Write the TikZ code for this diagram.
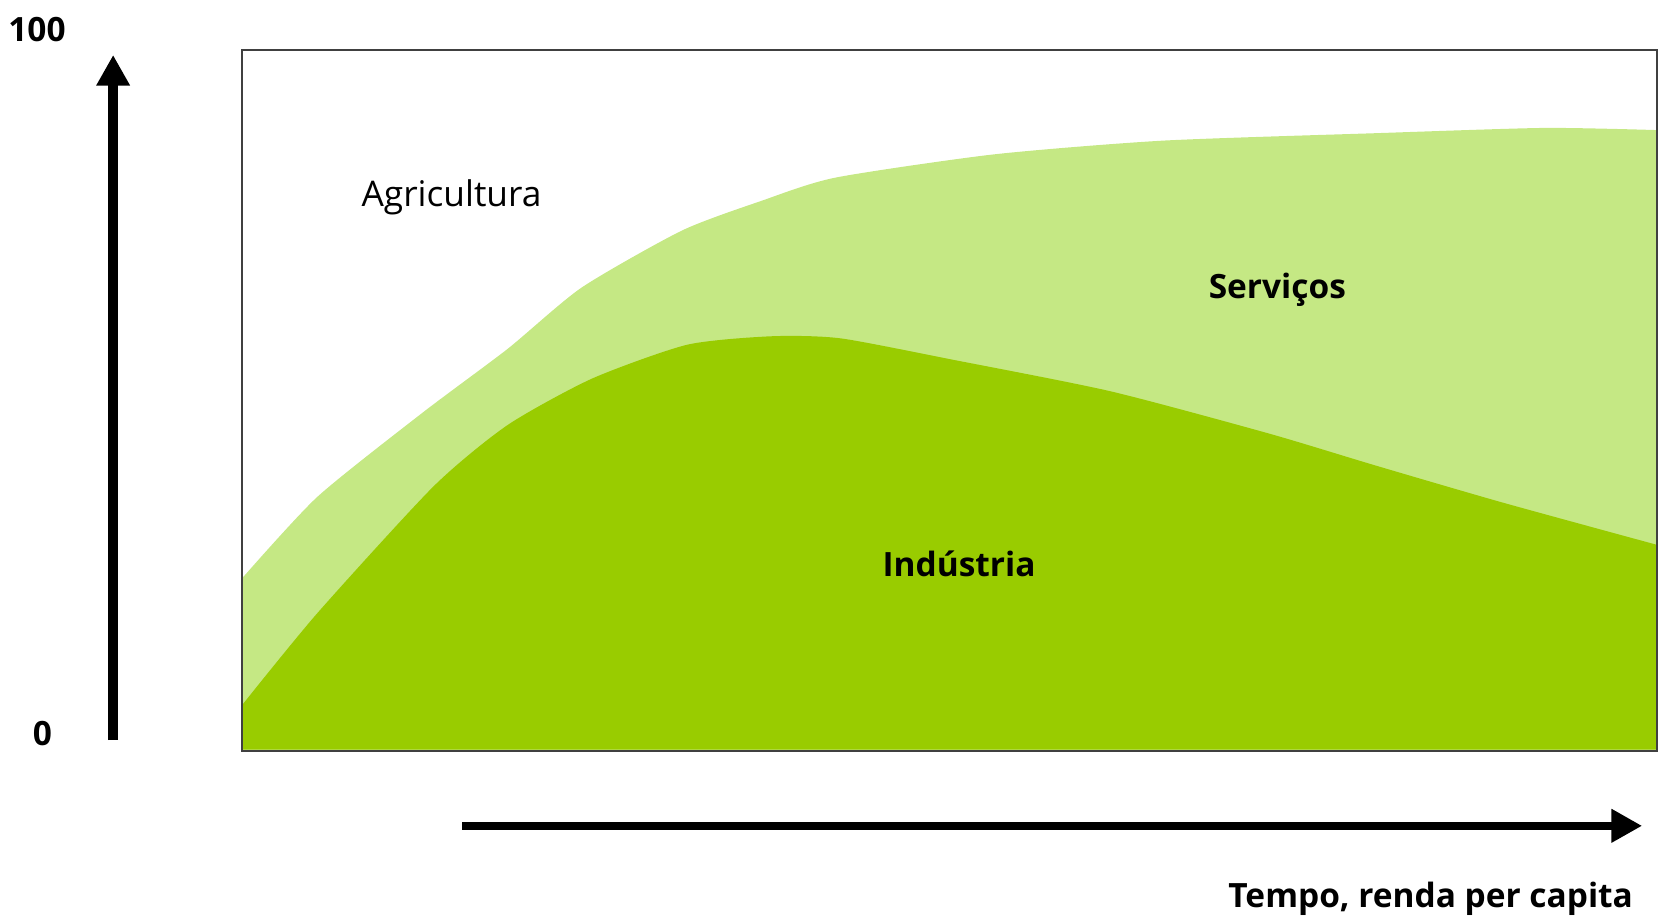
\documentclass[tikz,border=0pt]{standalone}
\usepackage{fontspec}
\setmainfont{Open Sans}
\usetikzlibrary{arrows.meta}
\definecolor{lightg}{RGB}{197,232,132}
\definecolor{darkg}{RGB}{153,204,0}
\tikzset{
  lbl/.style={font=\fontsize{9.5}{11}\selectfont, text=black, inner sep=0pt},
  lblb/.style={lbl, font=\fontsize{9}{11}\selectfont\bfseries},
  axisarrow/.style={line width=0.9mm, -{Triangle[width=3mm,length=2.9mm]}},
}
\begin{document}
\begin{tikzpicture}[x=0.1mm,y=-0.1mm]
\useasboundingbox (0,0) rectangle (1568,869);
% services area
\fill[lightg] plot[smooth,tension=0.4] coordinates {(228,548) (300,470) (400,390) (480,330) (550,272) (645,218) (720,190) (790,168) (940,146) (1100,133) (1300,126) (1460,121) (1566,123)} -- (1566,709) -- (228,709) -- cycle;
% industry area
\fill[darkg] plot[smooth,tension=0.4] coordinates {(228,668) (300,580) (410,460) (480,402) (560,358) (650,326) (730,318) (795,320) (900,340) (1050,370) (1200,410) (1300,440) (1420,475) (1566,515)} -- (1566,709) -- (228,709) -- cycle;
% frame
\node[draw=black!75, line width=0.6pt, minimum width=1338*0.1mm, minimum height=663*0.1mm, inner sep=0pt, anchor=north west] (frame) at (228,46) {};
% labels
\node[lbl] (agri) at (427,187) {Agricultura};
\node[lblb] (serv) at (1208,274) {Serviços};
\node[lblb] (ind) at (907,533) {Indústria};
\node[lblb] (cem) at (35,28) {100};
\node[lblb] (zero) at (40,694) {0};
\node[lblb, anchor=east] (tempo) at (1545,850) {Tempo, renda per capita};
% axes
\coordinate (vs) at (107,700);
\coordinate (ve) at (107,52);
\coordinate (hs) at (437,781);
\coordinate (he) at (1553,781);
\draw[axisarrow] (vs) -- (ve);
\draw[axisarrow, line width=0.8mm] (hs) -- (he);
\end{tikzpicture}
\end{document}
